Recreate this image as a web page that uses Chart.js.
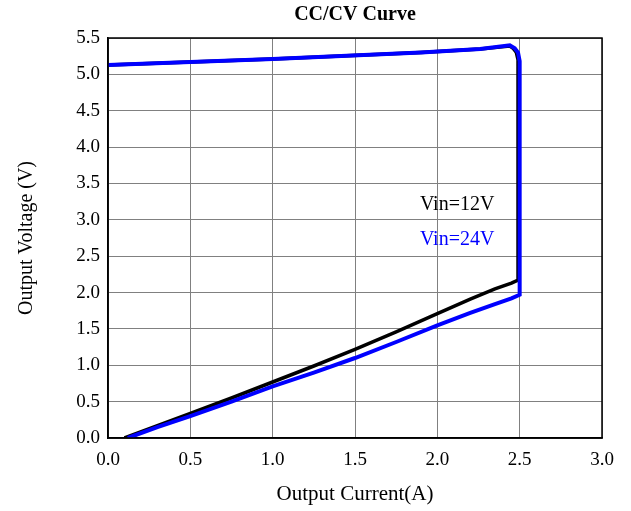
<!DOCTYPE html>
<html>
<head>
<meta charset="utf-8">
<script src="https://cdn.jsdelivr.net/npm/chart.js@4/dist/chart.umd.min.js"></script>
<style>
  html, body { margin: 0; padding: 0; background: #fff; }
  #wrap { width: 631px; height: 511px; }
</style>
</head>
<body>
<div id="wrap"><canvas id="cccv"></canvas></div>
<script>
// Curve data (current in A, voltage in V)
const vin12Current = [0.10, 0.30, 0.50, 0.75, 1.00, 1.25, 1.50, 1.75, 2.00, 2.20, 2.35, 2.45, 2.49, 2.49, 2.49, 2.48, 2.46, 2.44, 2.26, 1.90, 1.00, 0.00];
const vin12Voltage = [0.00, 0.17, 0.34, 0.55, 0.77, 0.99, 1.22, 1.46, 1.71, 1.91, 2.05, 2.13, 2.17, 4.00, 5.20, 5.30, 5.36, 5.39, 5.35, 5.30, 5.21, 5.13];

const vin24Current = [0.12, 0.30, 0.50, 0.75, 1.00, 1.25, 1.50, 1.75, 2.00, 2.20, 2.35, 2.45, 2.50, 2.50, 2.50, 2.49, 2.47, 2.44, 2.26, 1.90, 1.00, 0.00];
const vin24Voltage = [0.00, 0.15, 0.30, 0.50, 0.71, 0.90, 1.10, 1.32, 1.55, 1.72, 1.84, 1.92, 1.97, 4.00, 5.18, 5.30, 5.36, 5.40, 5.35, 5.30, 5.21, 5.13];

const xTicks = [0.0, 0.5, 1.0, 1.5, 2.0, 2.5, 3.0];
const yTicks = [0.0, 0.5, 1.0, 1.5, 2.0, 2.5, 3.0, 3.5, 4.0, 4.5, 5.0, 5.5];

const seriesLabels = ["Vin=12V", "Vin=24V"];
const chartTitle = "CC/CV Curve";

const toPoints = (xs, ys) => xs.map((x, i) => ({ x: x, y: ys[i] }));

const serif = "'Liberation Serif', 'Times New Roman', serif";

// Frame round the plot area, title over the plot, and the in-plot labels
const framePlugin = {
  id: "frame",
  afterDatasetsDraw(chart) {
    const { ctx, chartArea } = chart;
    ctx.save();
    ctx.strokeStyle = "#000";
    ctx.lineWidth = 1.5;
    ctx.strokeRect(chartArea.left, chartArea.top, chartArea.right - chartArea.left, chartArea.bottom - chartArea.top);
    ctx.restore();
  },
  afterDraw(chart) {
    const { ctx, scales, chartArea } = chart;
    const opts = chart.options.plugins.frame;
    ctx.save();
    // title centred over the plot area
    ctx.fillStyle = "#000";
    ctx.font = "bold 20px " + serif;
    ctx.textAlign = "center";
    ctx.textBaseline = "middle";
    ctx.fillText(opts.title, (chartArea.left + chartArea.right) / 2, 15);
    // series labels
    ctx.font = "20px " + serif;
    ctx.textAlign = "left";
    opts.notes.forEach(n => {
      ctx.fillStyle = n.color;
      ctx.fillText(n.text, scales.x.getPixelForValue(n.x), scales.y.getPixelForValue(n.y));
    });
    ctx.restore();
  }
};

new Chart(document.getElementById("cccv"), {
  type: "scatter",
  data: {
    datasets: [
      {
        label: seriesLabels[1],
        data: toPoints(vin24Current, vin24Voltage),
        showLine: true,
        borderColor: "#0000ff",
        borderWidth: 4,
        pointRadius: 0,
        order: 0
      },
      {
        label: seriesLabels[0],
        data: toPoints(vin12Current, vin12Voltage),
        showLine: true,
        borderColor: "#000000",
        borderWidth: 3.5,
        pointRadius: 0,
        order: 1
      }
    ]
  },
  options: {
    responsive: true,
    maintainAspectRatio: false,
    animation: false,
    layout: { padding: { left: 0, right: 29, top: 38, bottom: 0 } },
    plugins: {
      legend: { display: false },
      tooltip: { enabled: false },
      title: { display: false },
      frame: {
        title: chartTitle,
        notes: [
          { text: seriesLabels[0], x: 1.894, y: 3.21, color: "#000000" },
          { text: seriesLabels[1], x: 1.894, y: 2.72, color: "#0000ff" }
        ]
      }
    },
    scales: {
      x: {
        type: "linear",
        min: 0,
        max: 3,
        afterBuildTicks: s => { s.ticks = xTicks.map(v => ({ value: v })); },
        afterFit: s => { s.height = 73; },
        grid: { color: "#808080", lineWidth: 1, drawTicks: false },
        border: { color: "#000", width: 1.5 },
        ticks: {
          color: "#000",
          padding: 11,
          font: { family: serif, size: 19 },
          callback: v => v.toFixed(1)
        },
        title: {
          display: true,
          text: "Output Current(A)",
          color: "#000",
          font: { family: serif, size: 21 },
          padding: { top: 0, bottom: 4 }
        }
      },
      y: {
        type: "linear",
        min: 0,
        max: 5.5,
        afterBuildTicks: s => { s.ticks = yTicks.map(v => ({ value: v })); },
        afterFit: s => { s.width = 108; },
        grid: { color: "#808080", lineWidth: 1, drawTicks: false },
        border: { color: "#000", width: 1.5 },
        ticks: {
          color: "#000",
          padding: 8,
          font: { family: serif, size: 19 },
          callback: v => v.toFixed(1)
        },
        title: {
          display: true,
          text: "Output Voltage (V)",
          color: "#000",
          font: { family: serif, size: 20 },
          padding: { top: 15, bottom: 0 }
        }
      }
    }
  },
  plugins: [framePlugin]
});
</script>
</body>
</html>
